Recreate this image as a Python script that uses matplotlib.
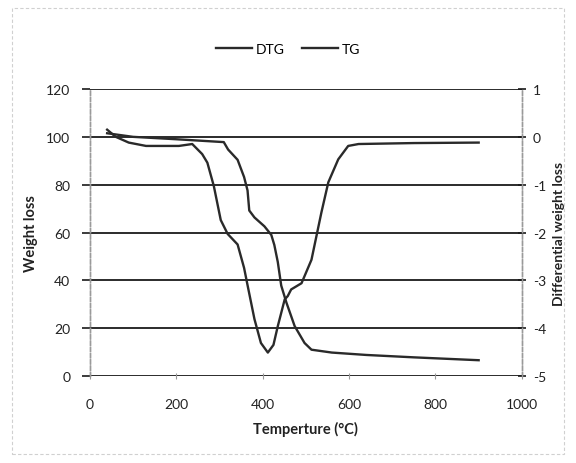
import matplotlib.pyplot as plt
from matplotlib.patches import Rectangle

plt.rcParams["font.family"] = ["Lato", "DejaVu Sans"]
plt.rcParams["axes.unicode_minus"] = False

# TG curve (left axis, weight loss %)
temp_tg = [40, 100, 200, 310, 320, 342, 357, 365, 369, 381, 404, 420, 427,
           435, 443, 455, 474, 497, 513, 560, 640, 750, 900]
tg = [101.5, 100.0, 99.0, 97.8, 94.7, 90.4, 83.2, 77.6, 69.2, 66.3, 62.6, 59.0,
      54.8, 47.7, 37.8, 30.7, 20.9, 13.8, 11.0, 9.8, 8.8, 7.8, 6.6]

# DTG curve (right axis, differential weight loss)
temp_dtg = [40, 60, 90, 130, 206, 237, 260, 272, 287, 303, 319, 342, 357, 365,
            381, 396, 412, 425, 435, 451, 458, 466, 490, 513, 536, 552, 575,
            598, 622, 750, 900]
dtg = [0.15, 0.0, -0.12, -0.19, -0.19, -0.15, -0.36, -0.54, -1.03, -1.74,
       -2.03, -2.25, -2.74, -3.1, -3.81, -4.31, -4.51, -4.35, -3.96, -3.4,
       -3.33, -3.19, -3.06, -2.57, -1.58, -0.95, -0.47, -0.19, -0.15, -0.13,
       -0.12]

x_ticks = [0, 200, 400, 600, 800, 1000]
left_ticks = [0, 20, 40, 60, 80, 100, 120]
right_ticks = [-5, -4, -3, -2, -1, 0, 1]

line_col = "#2a2a2a"
axis_col = "#9a9a9a"

fig = plt.figure(figsize=(5.76, 4.64), dpi=100)
ax1 = fig.add_axes([0.156, 0.1875, 0.75, 0.6185])
ax2 = ax1.twinx()

ax1.set_xlim(0, 1000)
ax1.set_ylim(0, 120)
ax2.set_ylim(-5, 1)

ax1.set_yticks(left_ticks)
ax2.set_yticks(right_ticks)
ax1.set_xticks(x_ticks)

for y in left_ticks:
    ax1.axhline(y, color="#1a1a1a", lw=1.3, zorder=1)

l_dtg, = ax2.plot(temp_dtg, dtg, color=line_col, lw=1.7, label="DTG",
                  solid_joinstyle="round")
l_tg, = ax1.plot(temp_tg, tg, color=line_col, lw=1.7, label="TG",
                 solid_joinstyle="round")

for ax in (ax1, ax2):
    ax.spines["top"].set_visible(False)
    ax.spines["bottom"].set_visible(False)
    for side in ("left", "right"):
        ax.spines[side].set_color(axis_col)
        ax.spines[side].set_linestyle((0, (3, 1.5)))
        ax.spines[side].set_linewidth(1.0)

ax1.tick_params(axis="y", length=6, width=1.2, color="#1a1a1a", direction="out",
                labelsize=10, pad=8, labelcolor="#222222")
ax2.tick_params(axis="y", length=6, width=1.2, color="#1a1a1a", direction="inout",
                labelsize=10, pad=5, labelcolor="#222222")
ax1.tick_params(axis="x", length=4, width=0.8, color=axis_col, direction="inout",
                labelsize=10, pad=14, labelcolor="#222222")

ax1.set_xlabel("Temperture (°C)", fontsize=10.5, fontweight="bold",
               color="#222222", labelpad=8)
ax1.set_ylabel("Weight loss", fontsize=10.5, fontweight="bold",
               color="#222222", labelpad=6)
ax2.set_ylabel("Differential weight loss", fontsize=10, fontweight="bold",
               color="#222222", labelpad=5)

fig.legend(handles=[l_dtg, l_tg], loc="center", bbox_to_anchor=(0.5, 0.892),
           ncol=2, frameon=False, fontsize=10, handlelength=2.6,
           columnspacing=1.2, handletextpad=0.3)

fig.patches.append(Rectangle((0.02, 0.02), 0.96, 0.96, transform=fig.transFigure,
                             fill=False, edgecolor="#d0d0d0", lw=0.8,
                             linestyle=(0, (3, 2))))

fig.savefig("out.png", dpi=100)
